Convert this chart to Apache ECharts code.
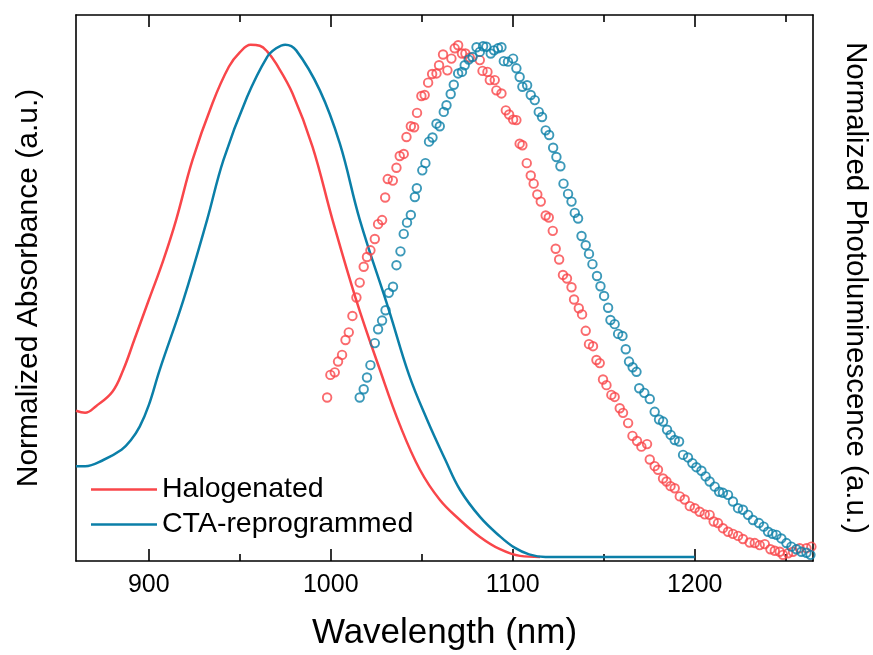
<!DOCTYPE html>
<html>
<head>
<meta charset="utf-8">
<script src="https://cdn.jsdelivr.net/npm/echarts@6/dist/echarts.min.js"></script>
<style>
  html, body { margin: 0; padding: 0; background: #fff; }
  #chart { width: 873px; height: 655px; }
</style>
</head>
<body>
<div id="chart"></div>
<script>
// Wavelength window and tick positions (nm)
const xMin = 860;
const xMax = 1265;
const majorTicks = [900, 1000, 1100, 1200];
const minorTicks = [950, 1050, 1150, 1250];

// Absorbance spectra: [wavelength nm, normalized absorbance]
const absHalogenated = [
  [860, 0.285], [865, 0.281], [871, 0.294], [880, 0.322], [886, 0.365], [892, 0.423],
  [900, 0.501], [908, 0.579], [915, 0.657], [924, 0.774], [935, 0.885], [944, 0.956],
  [950, 0.984], [956, 0.999], [961, 0.997], [965, 0.986], [970, 0.962], [979, 0.904],
  [990, 0.800], [1001, 0.657], [1014, 0.501], [1027, 0.365], [1038, 0.257], [1049, 0.170],
  [1060, 0.111], [1071, 0.072], [1082, 0.039], [1093, 0.015], [1104, 0.002], [1115, 0]
];
const absCTA = [
  [860, 0.177], [865, 0.177], [875, 0.189], [885, 0.209], [890, 0.227], [895, 0.254],
  [900, 0.296], [906, 0.365], [919, 0.501], [932, 0.657], [941, 0.774], [954, 0.897],
  [965, 0.975], [970, 0.992], [975, 0.999], [981, 0.988], [994, 0.910], [1005, 0.806],
  [1016, 0.657], [1032, 0.481], [1043, 0.355], [1053, 0.267], [1063, 0.189], [1071, 0.131],
  [1082, 0.078], [1093, 0.040], [1101, 0.018], [1109, 0.005], [1118, 0], [1200, 0]
];

// Photoluminescence spectra: [wavelength nm, normalized PL]
const plHalogenated = [
  [998.0, 0.311], [999.8, 0.355], [1002.2, 0.360], [1004.0, 0.381], [1006.2, 0.394],
  [1008.1, 0.423], [1009.9, 0.438], [1011.9, 0.470], [1014.1, 0.506], [1015.9, 0.535],
  [1018.1, 0.566], [1019.9, 0.585], [1021.8, 0.598], [1024.2, 0.620], [1026.0, 0.649],
  [1028.2, 0.657], [1029.9, 0.701], [1031.3, 0.737], [1034.1, 0.734], [1036.1, 0.759],
  [1037.9, 0.782], [1040.1, 0.786], [1041.6, 0.819], [1044.0, 0.840], [1045.8, 0.838],
  [1047.4, 0.866], [1049.8, 0.899], [1051.6, 0.901], [1053.5, 0.925], [1055.7, 0.942],
  [1058.1, 0.943], [1059.5, 0.959], [1061.7, 0.980], [1064.1, 0.949], [1066.3, 0.972],
  [1068.1, 0.992], [1070.0, 0.998], [1072.1, 0.982], [1074.0, 0.982], [1076.4, 0.974],
  [1081.9, 0.969], [1083.4, 0.948], [1086.1, 0.946], [1087.4, 0.930], [1090.1, 0.930],
  [1091.0, 0.910], [1093.8, 0.904], [1096.2, 0.871], [1098.0, 0.863], [1100.2, 0.853],
  [1102.0, 0.852], [1103.8, 0.806], [1105.3, 0.803], [1107.7, 0.768], [1109.9, 0.744],
  [1111.5, 0.728], [1113.5, 0.707], [1115.4, 0.693], [1118.1, 0.666], [1119.8, 0.662],
  [1122.0, 0.636], [1123.6, 0.601], [1125.5, 0.580], [1127.6, 0.550], [1129.8, 0.543],
  [1132.3, 0.526], [1133.7, 0.502], [1136.3, 0.485], [1138.1, 0.473], [1140.1, 0.441],
  [1141.9, 0.415], [1144.1, 0.411], [1146.0, 0.384], [1147.8, 0.378], [1149.6, 0.346],
  [1151.5, 0.335], [1154.2, 0.316], [1156.0, 0.312], [1158.8, 0.290], [1160.6, 0.281],
  [1163.4, 0.261], [1165.8, 0.236], [1168.3, 0.226], [1170.7, 0.215], [1173.8, 0.220],
  [1175.3, 0.190], [1178.0, 0.177], [1179.8, 0.170], [1182.6, 0.153], [1184.5, 0.147],
  [1186.7, 0.138], [1189.0, 0.134], [1191.8, 0.118], [1194.5, 0.112], [1197.3, 0.099],
  [1200.0, 0.095], [1202.7, 0.088], [1205.5, 0.083], [1208.2, 0.082], [1210.4, 0.069],
  [1212.8, 0.066], [1215.5, 0.056], [1218.3, 0.049], [1221.0, 0.045], [1223.8, 0.041],
  [1226.5, 0.035], [1230.2, 0.028], [1233.0, 0.027], [1235.7, 0.023], [1238.5, 0.025],
  [1241.6, 0.015], [1244.0, 0.012], [1246.7, 0.010], [1248.5, 0.004], [1251.3, 0.007],
  [1254.0, 0.010], [1257.7, 0.017], [1261.4, 0.017], [1264.1, 0.020]
];
const plCTA = [
  [1015.9, 0.311], [1018.1, 0.327], [1019.9, 0.350], [1021.8, 0.374], [1024.2, 0.417],
  [1026.0, 0.444], [1028.2, 0.461], [1030.1, 0.481], [1031.9, 0.515], [1034.2, 0.527],
  [1036.1, 0.569], [1038.3, 0.596], [1040.1, 0.630], [1041.9, 0.652], [1044.0, 0.667],
  [1046.2, 0.702], [1047.3, 0.719], [1050.3, 0.754], [1052.0, 0.768], [1054.0, 0.810],
  [1055.9, 0.818], [1058.1, 0.845], [1059.9, 0.840], [1062.1, 0.868], [1063.6, 0.881],
  [1065.9, 0.903], [1067.6, 0.921], [1070.0, 0.943], [1072.1, 0.946], [1073.6, 0.959],
  [1075.8, 0.970], [1077.9, 0.975], [1080.1, 0.994], [1081.9, 0.985], [1083.7, 0.996],
  [1085.5, 0.995], [1087.9, 0.982], [1089.7, 0.988], [1091.9, 0.992], [1093.8, 0.994],
  [1095.1, 0.967], [1097.4, 0.966], [1100.2, 0.972], [1102.0, 0.953], [1103.8, 0.936],
  [1105.3, 0.917], [1107.9, 0.920], [1109.9, 0.901], [1112.1, 0.891], [1114.3, 0.868],
  [1116.1, 0.858], [1118.1, 0.832], [1120.0, 0.823], [1122.2, 0.798], [1124.0, 0.780],
  [1126.2, 0.762], [1127.9, 0.728], [1130.4, 0.708], [1132.3, 0.693], [1134.1, 0.671],
  [1135.9, 0.660], [1137.8, 0.626], [1140.1, 0.608], [1141.9, 0.591], [1143.8, 0.571],
  [1146.3, 0.548], [1148.2, 0.528], [1150.2, 0.509], [1152.4, 0.486], [1153.7, 0.462],
  [1156.0, 0.454], [1157.9, 0.435], [1160.3, 0.431], [1162.1, 0.405], [1163.9, 0.381],
  [1165.9, 0.370], [1168.0, 0.361], [1169.5, 0.329], [1172.3, 0.320], [1175.3, 0.308],
  [1178.0, 0.283], [1180.4, 0.268], [1182.6, 0.264], [1184.8, 0.248], [1186.8, 0.238],
  [1189.0, 0.228], [1191.4, 0.225], [1193.6, 0.199], [1196.3, 0.194], [1198.7, 0.183],
  [1200.9, 0.175], [1203.7, 0.168], [1206.0, 0.157], [1208.2, 0.147], [1211.0, 0.137],
  [1213.4, 0.127], [1215.5, 0.125], [1218.3, 0.121], [1221.0, 0.108], [1223.8, 0.095],
  [1226.5, 0.092], [1229.3, 0.082], [1232.0, 0.072], [1235.3, 0.066], [1237.9, 0.059],
  [1240.3, 0.049], [1242.7, 0.045], [1244.9, 0.043], [1247.6, 0.036], [1250.4, 0.027],
  [1253.1, 0.020], [1255.9, 0.015], [1258.6, 0.010], [1261.4, 0.008], [1263.6, 0.004]
];

const RED = '#F9464A';
const BLUE = '#0B7FA8';
const FONT = '"Liberation Sans", Arial, sans-serif';
const axisStroke = { color: '#000', width: 1.6 };

function xAxisDef(position, ticks, tickLen, primary) {
  const labelled = primary && position === 'bottom';
  return {
    type: 'value',
    position: position,
    min: xMin,
    max: xMax,
    axisLine: { show: primary, onZero: false, lineStyle: axisStroke },
    axisTick: { show: true, inside: true, length: tickLen, customValues: ticks,
                lineStyle: { color: '#000', width: 1.6 } },
    axisLabel: labelled
      ? { show: true, customValues: ticks, margin: 12, color: '#000', fontSize: 25,
          fontFamily: FONT, formatter: (v) => String(v) }
      : { show: false },
    splitLine: { show: false },
    name: labelled ? 'Wavelength (nm)' : '',
    nameLocation: 'middle',
    nameGap: 55,
    nameTextStyle: { color: '#000', fontSize: 35, fontFamily: FONT }
  };
}

function yAxisDef(position, name, rotate, gap, size) {
  return {
    type: 'value',
    position: position,
    min: -0.008,
    max: 1.057,
    axisLine: { show: true, onZero: false, lineStyle: axisStroke },
    axisTick: { show: false },
    axisLabel: { show: false },
    splitLine: { show: false },
    name: name,
    nameLocation: 'middle',
    nameRotate: rotate,
    nameGap: gap,
    nameTextStyle: { color: '#000', fontSize: size, fontFamily: FONT }
  };
}

const chart = echarts.init(document.getElementById('chart'), null, { renderer: 'canvas' });

// Open circles for the emission data
const plSymbol = (color) => ({
  type: 'scatter',
  xAxisIndex: 0,
  yAxisIndex: 1,
  symbol: 'circle',
  symbolSize: 8.5,
  itemStyle: { color: 'rgba(255,255,255,0)', borderColor: color, borderWidth: 1.9 },
  emphasis: { disabled: true },
  z: 3
});

chart.setOption({
  animation: false,
  backgroundColor: '#fff',
  grid: { left: 76, right: 60, top: 15, bottom: 94, containLabel: false, outerBoundsMode: 'none' },
  xAxis: [
    xAxisDef('bottom', majorTicks, 12, true),
    xAxisDef('bottom', minorTicks, 7, false),
    xAxisDef('top', majorTicks, 12, true),
    xAxisDef('top', minorTicks, 7, false)
  ],
  yAxis: [
    yAxisDef('left', 'Normalized Absorbance (a.u.)', 90, 32, 30),
    yAxisDef('right', 'Normalized Photoluminescence (a.u.)', -90, 27, 29.5)
  ],
  legend: {
    data: ['Halogenated', 'CTA-reprogrammed'],
    orient: 'vertical',
    left: 86,
    top: 470,
    icon: 'rect',
    itemWidth: 66,
    itemHeight: 2.6,
    itemGap: 6,
    textStyle: { color: '#000', fontSize: 28.5, fontFamily: FONT }
  },
  series: [
    {
      name: 'Halogenated', type: 'line', data: absHalogenated,
      xAxisIndex: 0, yAxisIndex: 0, symbol: 'none', smooth: 0.4,
      lineStyle: { color: RED, width: 2.5 }, itemStyle: { color: RED }, z: 2
    },
    {
      name: 'CTA-reprogrammed', type: 'line', data: absCTA,
      xAxisIndex: 0, yAxisIndex: 0, symbol: 'none', smooth: 0.4,
      lineStyle: { color: BLUE, width: 2.5 }, itemStyle: { color: BLUE }, z: 2
    },
    Object.assign({ name: 'Halogenated PL', data: plHalogenated }, plSymbol(RED)),
    Object.assign({ name: 'CTA-reprogrammed PL', data: plCTA }, plSymbol(BLUE))
  ]
});
</script>
</body>
</html>
